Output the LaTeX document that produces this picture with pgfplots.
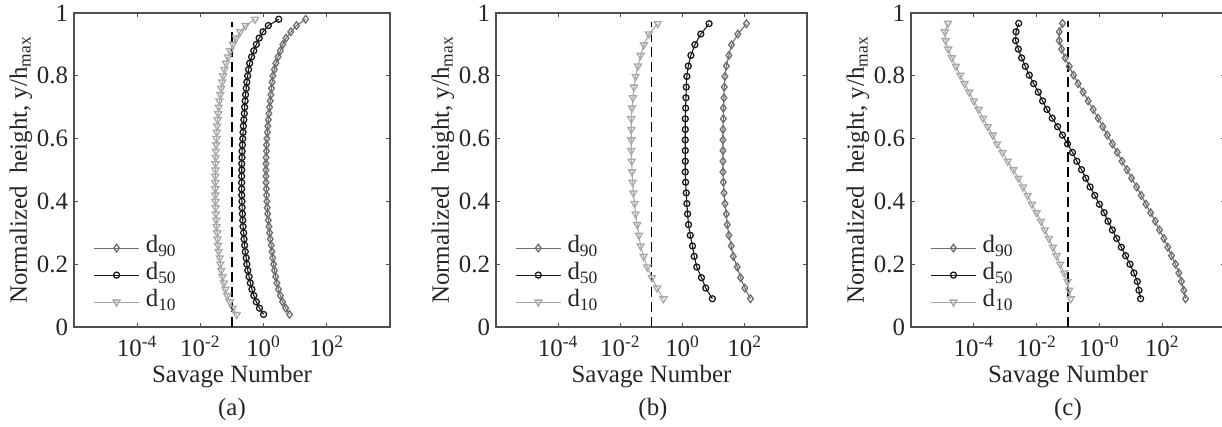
\documentclass[border=0pt]{standalone}
\usepackage{fontspec}
\setmainfont{Liberation Serif}
\usepackage{pgfplots}
\usepackage{pgfplotstable}
\pgfplotsset{compat=1.18}
\definecolor{cninety}{HTML}{6E6E6E}
\definecolor{cfifty}{HTML}{1A1A1A}
\definecolor{cten}{HTML}{A8A8A8}
\definecolor{axc}{HTML}{505050}
\newcommand{\ff}{\fontsize{12.5}{14}\selectfont}

% panel (a): y, d90, d50, d10
\pgfplotstableread{
y d90 d50 d10
0.04 6.61 1.00 0.141
0.06 5.01 0.741 0.107
0.08 3.98 0.589 0.0851
0.10 3.39 0.490 0.0708
0.12 2.95 0.427 0.0617
0.14 2.63 0.380 0.0550
0.16 2.40 0.347 0.0501
0.18 2.21 0.316 0.0457
0.20 2.07 0.295 0.0427
0.22 1.95 0.282 0.0407
0.24 1.84 0.263 0.0380
0.26 1.74 0.251 0.0363
0.28 1.62 0.240 0.0347
0.30 1.55 0.234 0.0339
0.32 1.48 0.224 0.0324
0.34 1.41 0.219 0.0316
0.36 1.35 0.214 0.0309
0.38 1.30 0.209 0.0302
0.40 1.27 0.207 0.0299
0.42 1.24 0.204 0.0295
0.44 1.22 0.202 0.0295
0.46 1.20 0.202 0.0295
0.48 1.19 0.202 0.0295
0.50 1.19 0.204 0.0299
0.52 1.19 0.204 0.0302
0.54 1.20 0.207 0.0305
0.56 1.23 0.209 0.0309
0.58 1.24 0.214 0.0316
0.60 1.27 0.219 0.0324
0.62 1.32 0.224 0.0331
0.64 1.36 0.229 0.0339
0.66 1.41 0.237 0.0351
0.68 1.48 0.245 0.0363
0.70 1.55 0.251 0.0380
0.72 1.62 0.260 0.0398
0.74 1.70 0.269 0.0427
0.76 1.78 0.282 0.0457
0.78 1.86 0.295 0.0490
0.80 1.97 0.313 0.0525
0.82 2.19 0.335 0.0575
0.84 2.45 0.363 0.0646
0.86 2.85 0.417 0.0741
0.88 3.39 0.490 0.0871
0.90 4.07 0.589 0.107
0.92 5.13 0.724 0.135
0.94 7.24 0.955 0.182
0.96 11.0 1.41 0.269
0.98 21.4 3.02 0.537
}\tabA

% panel (b)
\pgfplotstableread{
y d90 d50 d10
0.090 152 9.06 0.242
0.124 100 5.56 0.152
0.157 72.8 4.04 0.103
0.191 56.9 2.86 0.0728
0.225 42.5 2.36 0.0556
0.258 36.6 2.08 0.0446
0.292 30.8 1.76 0.0394
0.326 27.3 1.55 0.0349
0.360 25.4 1.45 0.0308
0.393 23.0 1.37 0.0286
0.427 21.4 1.31 0.0260
0.461 20.4 1.25 0.0248
0.494 19.9 1.22 0.0236
0.528 19.9 1.22 0.0230
0.562 19.9 1.22 0.0224
0.596 19.9 1.22 0.0224
0.629 19.9 1.22 0.0224
0.663 20.4 1.22 0.0224
0.697 20.4 1.25 0.0236
0.730 21.4 1.28 0.0253
0.764 21.9 1.31 0.0273
0.798 23.0 1.37 0.0308
0.831 25.4 1.52 0.0366
0.865 30.8 1.85 0.0446
0.899 37.5 2.48 0.0569
0.933 59.8 3.85 0.0822
0.966 113 7.10 0.159
}\tabB

% panel (c)
\pgfplotstableread{
y d90 d50 d10
0.090 551 20.5 0.123
0.117 488 18.2 0.109
0.145 411 16.1 0.0964
0.172 338 12.6 0.0755
0.200 265 9.42 0.0564
0.227 198 6.85 0.0432
0.254 151 4.99 0.0330
0.282 113 3.55 0.0247
0.309 82.2 2.59 0.0184
0.337 60.0 1.88 0.0137
0.364 42.7 1.41 0.0100
0.391 30.3 1.00 0.00711
0.419 21.5 0.711 0.00518
0.446 15.3 0.506 0.00368
0.474 10.6 0.368 0.00262
0.501 7.55 0.269 0.00182
0.528 5.25 0.191 0.00120
0.556 3.72 0.139 0.000813
0.583 2.59 0.0964 0.000551
0.611 1.79 0.0668 0.000401
0.638 1.28 0.0465 0.000278
0.665 0.908 0.0314 0.000198
0.693 0.630 0.0213 0.000141
0.720 0.437 0.0155 0.000100
0.748 0.303 0.0113 0.0000711
0.775 0.210 0.00804 0.0000506
0.802 0.150 0.00585 0.0000368
0.830 0.109 0.00437 0.0000269
0.857 0.0813 0.00334 0.0000200
0.885 0.0622 0.00262 0.0000153
0.912 0.0525 0.00215 0.0000126
0.940 0.0525 0.00221 0.0000120
0.967 0.0668 0.00269 0.0000150
}\tabC

\pgfplotsset{
  sav/.style={
    scale only axis, height=157bp,
    xmin=1e-6, xmax=1e4, ymin=0, ymax=1,
    xtick={1e-4,1e-2,1,1e2},
    xminorticks=false, yminorticks=false,
    ytick={0,0.2,0.4,0.6,0.8,1},
    yticklabels={0,0.2,0.4,0.6,0.8,1},
    tick align=inside, major tick length=2.2bp,
    axis line style={axc, line width=0.6bp},
    every tick/.style={axc, line width=0.5bp},
    tick label style={font=\ff, text=black!85},
    xticklabel style={yshift=-1bp},
    yticklabel style={xshift=0.5bp},
    every axis x label/.style={at={(axis description cs:0.5,0)}, anchor=center, yshift=-25bp, font=\ff, text=black!85},
    every axis y label/.style={at={(axis description cs:0,0.5)}, anchor=center, xshift=-26.5bp, rotate=90, font=\ff, text=black!85},
    xlabel={Savage Number},
    ylabel={Normalized\ \ height, y/h\textsubscript{max}},
    legend style={at={(0.06,0.035)}, anchor=south west, draw=none, fill=none,
      font=\ff, text=black!85, row sep=0bp, inner sep=0bp,
      nodes={inner xsep=3bp, inner ysep=0.5bp, text height=8.5bp, text depth=4bp}},
    legend cell align=left,
    legend image code/.code={\draw[mark repeat=2,mark phase=2,##1] plot coordinates {(0cm,0cm) (0.4cm,0cm) (0.8cm,0cm)};},
  },
  s90/.style={cninety, line width=0.55bp, mark=diamond, mark size=1.9bp, mark options={solid, fill=none, line width=0.65bp}},
  s50/.style={cfifty, line width=0.55bp, mark=o, mark size=1.5bp, mark options={solid, fill=none, line width=0.65bp}},
  s10/.style={cten, line width=0.55bp, mark=triangle, mark size=2bp, mark options={solid, fill=none, rotate=180, line width=0.65bp}},
  sdash/.style={black, line width=0.75bp, dash pattern=on 5bp off 2.5bp, forget plot},
}

\begin{document}
\begin{tikzpicture}
% (a)
\begin{axis}[xmode=log, sav, at={(37bp,50bp)}, anchor=south west, width=158bp,
  xticklabels={10\textsuperscript{-4},10\textsuperscript{-2},10\textsuperscript{0},10\textsuperscript{2}}]
\addplot[sdash] coordinates {(0.1,0) (0.1,0.97)};
\addplot[s90] table[x=d90,y=y]{\tabA};
\addlegendentry{d\textsubscript{90}}
\addplot[s50] table[x=d50,y=y]{\tabA};
\addlegendentry{d\textsubscript{50}}
\addplot[s10] table[x=d10,y=y]{\tabA};
\addlegendentry{d\textsubscript{10}}
\end{axis}
% (b)
\begin{axis}[xmode=log, sav, at={(248bp,50bp)}, anchor=south west, width=155.5bp,
  xticklabels={10\textsuperscript{-4},10\textsuperscript{-2},10\textsuperscript{0},10\textsuperscript{2}}]
\addplot[sdash] coordinates {(0.1,0) (0.1,0.97)};
\addplot[s90] table[x=d90,y=y]{\tabB};
\addlegendentry{d\textsubscript{90}}
\addplot[s50] table[x=d50,y=y]{\tabB};
\addlegendentry{d\textsubscript{50}}
\addplot[s10] table[x=d10,y=y]{\tabB};
\addlegendentry{d\textsubscript{10}}
\end{axis}
% (c)
\begin{axis}[xmode=log, sav, at={(455.5bp,50bp)}, anchor=south west, width=157bp,
  xticklabels={10\textsuperscript{-4},10\textsuperscript{-2},10\textsuperscript{-0},10\textsuperscript{2}}]
\addplot[sdash] coordinates {(0.1,0) (0.1,0.975)};
\addplot[s90] table[x=d90,y=y]{\tabC};
\addlegendentry{d\textsubscript{90}}
\addplot[s50] table[x=d50,y=y]{\tabC};
\addlegendentry{d\textsubscript{50}}
\addplot[s10] table[x=d10,y=y]{\tabC};
\addlegendentry{d\textsubscript{10}}
\end{axis}
\node[font=\ff, text=black!85] at (116bp,8.5bp) {(a)};
\node[font=\ff, text=black!85] at (326.5bp,8.5bp) {(b)};
\node[font=\ff, text=black!85] at (534bp,8.5bp) {(c)};
\pgfresetboundingbox
\path[use as bounding box] (0,0) rectangle (611bp,213.5bp);
\end{tikzpicture}
\end{document}
